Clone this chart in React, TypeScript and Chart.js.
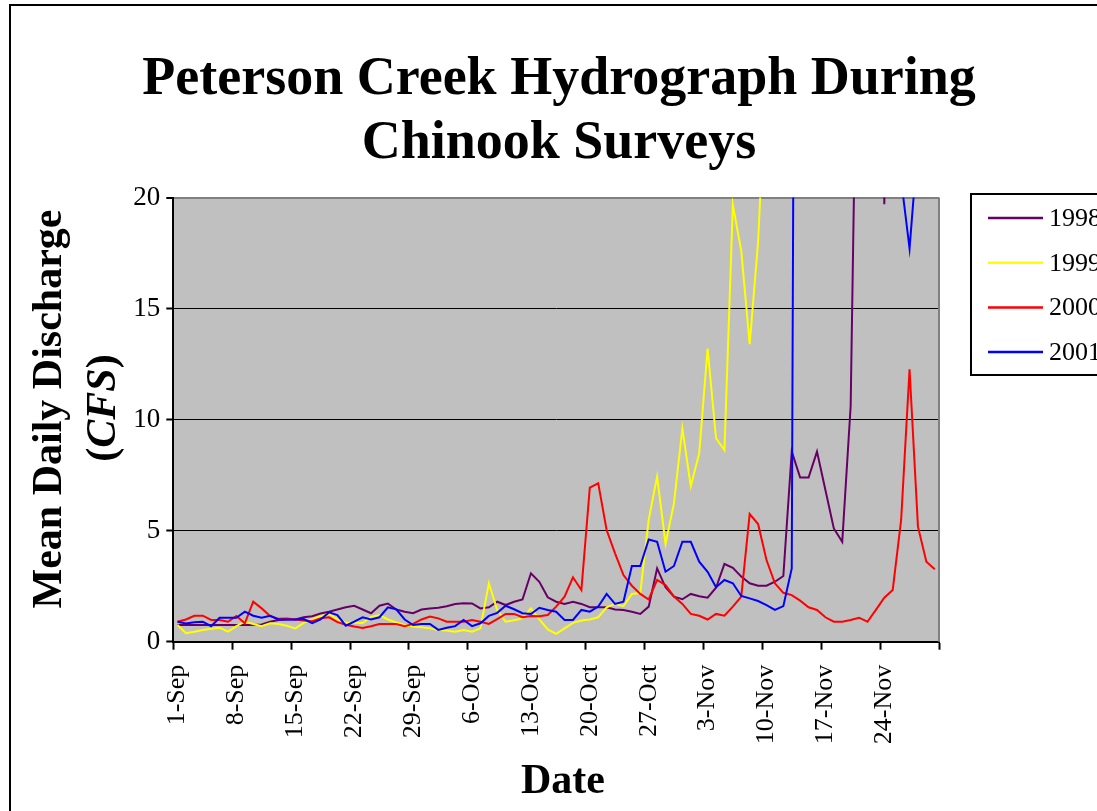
import React, { useEffect, useRef } from "react";
import { Chart, registerables } from "chart.js";

Chart.register(...registerables);

// ---------- data ----------
const months: [string, number][] = [
  ["Sep", 30],
  ["Oct", 31],
  ["Nov", 30],
];
const categories: string[] = [];
months.forEach(([m, n]) => {
  for (let d = 1; d <= n; d++) categories.push(`${d}-${m}`);
});

const tickLabels = [
  "1-Sep", "8-Sep", "15-Sep", "22-Sep", "29-Sep", "6-Oct", "13-Oct",
  "20-Oct", "27-Oct", "3-Nov", "10-Nov", "17-Nov", "24-Nov",
];

const seriesNames = ["1998", "1999", "2000", "2001"];

const flow1998 = [
  0.75, 0.75, 0.75, 0.75, 0.75, 0.75, 0.75, 0.75, 0.75, 0.75,
  0.78, 0.9, 0.98, 1.0, 1.0, 1.1, 1.15, 1.27, 1.35, 1.45,
  1.55, 1.62, 1.45, 1.28, 1.62, 1.72, 1.45, 1.35, 1.28, 1.45,
  1.5, 1.53, 1.6, 1.7, 1.73, 1.72, 1.5, 1.55, 1.8, 1.65,
  1.8, 1.9, 3.08, 2.7, 2.0, 1.8, 1.7, 1.8, 1.7, 1.55,
  1.55, 1.55, 1.45, 1.43, 1.35, 1.25, 1.58, 3.3, 2.45, 2.03,
  1.91, 2.15, 2.05, 1.98, 2.43, 3.5, 3.33, 2.93, 2.63, 2.52,
  2.52, 2.7, 2.96, 8.56, 7.39, 7.39, 8.56, 6.83, 5.1, 4.5,
  10.6, 35, 42, 38, 19.7, 40, 45, 48, 52, 50,
  46,
];

const flow1999 = [
  0.75, 0.38, 0.45, 0.53, 0.58, 0.63, 0.45, 0.7, 0.9, 0.8,
  0.7, 0.83, 0.8, 0.72, 0.6, 0.85, 1.0, 1.15, 1.25, 1.02,
  0.85, 0.85, 0.84, 1.12, 1.2, 1.0, 0.87, 0.75, 0.68, 0.65,
  0.6, 0.53, 0.5, 0.45, 0.53, 0.45, 0.6, 2.63, 1.43, 0.9,
  0.97, 1.05, 1.5, 1.0, 0.55, 0.35, 0.6, 0.85, 0.95, 1.0,
  1.1, 1.55, 1.7, 1.6, 2.15, 2.2, 5.5, 7.43, 4.4, 6.23,
  9.6, 7.0, 8.48, 13.2, 9.16, 8.63, 19.67, 17.6, 13.4, 18.0,
  26, 31, 34, 29, 36, 41, 38, 33, 30, 35,
  44, 52, 47, 40, 36, 39, 48, 55, 50, 43,
  40,
];

const flow2000 = [
  0.9, 1.0, 1.17, 1.17, 0.98, 0.98, 0.9, 1.16, 0.83, 1.8,
  1.5, 1.16, 1.03, 1.05, 1.0, 0.95, 0.92, 1.05, 1.1, 0.88,
  0.76, 0.68, 0.62, 0.7, 0.8, 0.8, 0.8, 0.7, 0.8, 1.0,
  1.13, 1.05, 0.9, 0.9, 0.9, 0.98, 0.9, 0.8, 1.02, 1.25,
  1.25, 1.1, 1.16, 1.15, 1.2, 1.58, 2.03, 2.9, 2.33, 6.94,
  7.13, 5.03, 3.98, 3.0, 2.52, 2.15, 1.9, 2.78, 2.55, 2.03,
  1.7, 1.25, 1.17, 1.0, 1.25, 1.17, 1.58, 2.03, 5.75, 5.3,
  3.68, 2.63, 2.2, 2.1, 1.85, 1.55, 1.43, 1.1, 0.9, 0.9,
  0.98, 1.08, 0.9, 1.43, 1.98, 2.33, 5.48, 12.27, 5.18, 3.6,
  3.26,
];

const flow2001 = [
  0.9, 0.82, 0.88, 0.9, 0.7, 1.08, 1.08, 1.08, 1.35, 1.17,
  1.08, 1.17, 1.0, 1.0, 1.0, 1.02, 0.83, 1.0, 1.32, 1.2,
  0.72, 0.9, 1.1, 1.0, 1.1, 1.55, 1.46, 1.0, 0.75, 0.8,
  0.8, 0.53, 0.63, 0.7, 0.98, 0.7, 0.83, 1.16, 1.3, 1.62,
  1.46, 1.28, 1.25, 1.53, 1.43, 1.35, 0.98, 0.98, 1.43, 1.35,
  1.58, 2.15, 1.7, 1.8, 3.41, 3.41, 4.6, 4.5, 3.15, 3.41,
  4.5, 4.5, 3.6, 3.15, 2.45, 2.78, 2.63, 2.06, 1.95, 1.83,
  1.65, 1.43, 1.6, 3.3, 100, 85, 70, 62, 55, 48,
  44, 40, 36, 33, 28, 24, 20.8, 17.7, 22.5, 30,
  34,
];

const yTicks = [0, 5, 10, 15, 20];

const colors = ["#660066", "#FFFF00", "#FF0000", "#0000FF"];

// ---------- style ----------
const SERIF = '"Liberation Serif", "Times New Roman", Times, serif';
const W = 1097;
const H = 811;

const decorPlugin = {
  id: "decor",
  beforeDraw(chart: any) {
    const { ctx, chartArea } = chart;
    ctx.save();
    ctx.fillStyle = "#ffffff";
    ctx.fillRect(0, 0, chart.width, chart.height);
    // outer frame of the chart object
    ctx.strokeStyle = "#000";
    ctx.lineWidth = 2;
    ctx.strokeRect(10, 5, 2000, 2000);
    // plot area
    ctx.fillStyle = "#C0C0C0";
    ctx.fillRect(
      chartArea.left,
      chartArea.top,
      chartArea.right - chartArea.left,
      chartArea.bottom - chartArea.top
    );
    ctx.restore();
  },
  afterDraw(chart: any) {
    const { ctx, chartArea } = chart;
    ctx.save();
    // plot area right border
    ctx.strokeStyle = "#808080";
    ctx.lineWidth = 2;
    ctx.beginPath();
    ctx.moveTo(chartArea.right, chartArea.top);
    ctx.lineTo(chartArea.right, chartArea.bottom);
    ctx.stroke();

    // title
    ctx.fillStyle = "#000";
    ctx.textAlign = "center";
    ctx.textBaseline = "alphabetic";
    ctx.font = `bold 54px ${SERIF}`;
    ctx.fillText("Peterson Creek Hydrograph During", 559, 94);
    ctx.fillText("Chinook Surveys", 559, 158);

    // x axis title
    ctx.font = `bold 42px ${SERIF}`;
    ctx.fillText("Date", 563, 793);

    // y axis title (rotated)
    ctx.save();
    ctx.translate(50, 409);
    ctx.rotate(-Math.PI / 2);
    ctx.textAlign = "center";
    ctx.textBaseline = "middle";
    ctx.font = `bold 42px ${SERIF}`;
    ctx.fillText("Mean Daily Discharge", 0, 0);
    ctx.restore();

    ctx.save();
    ctx.translate(104, 408);
    ctx.rotate(-Math.PI / 2);
    ctx.textBaseline = "middle";
    ctx.textAlign = "left";
    const parts: [string, string][] = [
      ["(", `bold 42px ${SERIF}`],
      ["CFS", `italic bold 42px ${SERIF}`],
      [")", `bold 42px ${SERIF}`],
    ];
    let total = 0;
    parts.forEach(([t, f]) => {
      ctx.font = f;
      total += ctx.measureText(t).width;
    });
    let x = -total / 2;
    parts.forEach(([t, f]) => {
      ctx.font = f;
      ctx.fillText(t, x, 0);
      x += ctx.measureText(t).width;
    });
    ctx.restore();

    // legend
    ctx.strokeStyle = "#000";
    ctx.lineWidth = 2;
    ctx.strokeRect(971, 194, 300, 181);
    ctx.font = `26px ${SERIF}`;
    ctx.textAlign = "left";
    ctx.textBaseline = "middle";
    chart.data.datasets.forEach((ds: any, i: number) => {
      const y = 218 + i * 44.7;
      ctx.strokeStyle = ds.borderColor;
      ctx.lineWidth = 2.5;
      ctx.beginPath();
      ctx.moveTo(988, y);
      ctx.lineTo(1043, y);
      ctx.stroke();
      ctx.fillStyle = "#000";
      ctx.fillText(ds.label, 1049, y + 1);
    });
    ctx.restore();
  },
};

export default function App() {
  const ref = useRef<HTMLCanvasElement | null>(null);

  useEffect(() => {
    if (!ref.current) return;
    const series = [flow1998, flow1999, flow2000, flow2001];
    const chart = new Chart(ref.current, {
      type: "line",
      data: {
        labels: categories,
        datasets: series.map((d, i) => ({
          label: seriesNames[i],
          data: d,
          borderColor: colors[i],
          backgroundColor: colors[i],
          borderWidth: 2,
          pointRadius: 0,
          tension: 0,
          fill: false,
          clip: 0,
          order: 4 - i,
        })),
      },
      options: {
        animation: false,
        responsive: false,
        maintainAspectRatio: false,
        layout: { padding: { top: 197.5, right: 158, bottom: 0, left: 0 } },
        plugins: {
          legend: { display: false },
          title: { display: false },
          tooltip: { enabled: false },
        },
        scales: {
          x: {
            type: "category",
            offset: true,
            grid: {
              offset: true,
              drawOnChartArea: false,
              drawTicks: true,
              tickLength: 8,
              tickWidth: 2,
              color: (c: any) =>
                c.index === undefined || c.index % 7 === 0 ? "#000" : "rgba(0,0,0,0)",
            },
            border: { display: true, color: "#000", width: 2 },
            ticks: {
              autoSkip: false,
              minRotation: 90,
              maxRotation: 90,
              padding: 15,
              color: "#000",
              font: { family: SERIF, size: 26 },
              callback: (_v: any, i: number) => (i % 7 === 0 ? tickLabels[i / 7] : ""),
            },
            afterFit: (s: any) => {
              s.height = H - 641.7;
            },
          },
          y: {
            min: 0,
            max: 20,
            afterBuildTicks: (s: any) => {
              s.ticks = yTicks.map((v) => ({ value: v }));
            },
            grid: {
              color: (c: any) => (c.tick && c.tick.value === 20 ? "#808080" : "#000"),
              lineWidth: (c: any) => (c.tick && c.tick.value === 20 ? 2 : 1),
              tickColor: "#000",
              tickLength: 7,
              tickWidth: 2,
            },
            border: { display: true, color: "#000", width: 2 },
            ticks: {
              padding: 6,
              color: "#000",
              font: { family: SERIF, size: 27 },
            },
            afterFit: (s: any) => {
              s.width = 173.3;
            },
          },
        },
      },
      plugins: [decorPlugin],
    } as any);
    return () => chart.destroy();
  }, []);

  return (
    <div style={{ position: "absolute", left: 0, top: 0, width: W, height: H, overflow: "hidden" }}>
      <canvas ref={ref} width={W} height={H} style={{ width: W, height: H, display: "block" }} />
    </div>
  );
}
